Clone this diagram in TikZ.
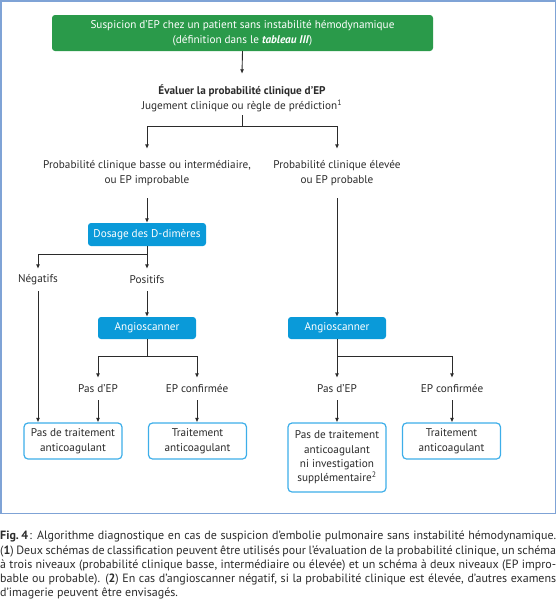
\documentclass[tikz,border=0pt]{standalone}
\usepackage{fontspec}
\setmainfont{PT Sans}
\usetikzlibrary{arrows.meta}
\definecolor{frameblue}{HTML}{7FA3D6}
\definecolor{epgreen}{HTML}{2A9A4A}
\definecolor{boxblue}{HTML}{0A9AD9}
\definecolor{lineblue}{HTML}{3DAEE9}
\definecolor{ink}{HTML}{2B2B2B}
\newcommand{\dfont}{\fontsize{11.2}{15}\selectfont}
\tikzset{
  arr/.style={draw=ink, line width=0.9pt, -{Latex[length=4.5pt,width=4pt]}},
  ln/.style={draw=ink, line width=0.9pt},
  txt/.style={align=center, inner sep=0pt, text=ink, font=\dfont},
  greenbox/.style={fill=epgreen, rounded corners=3pt, text=white, align=center, minimum width=381pt, minimum height=36pt, inner sep=0pt, font=\dfont},
  bluebox/.style={fill=boxblue, rounded corners=3pt, text=white, align=center, minimum height=23pt, inner sep=0pt, font=\dfont},
  outbox/.style={draw=lineblue, line width=1.2pt, fill=white, rounded corners=4pt, text=ink, align=center, minimum width=98pt, inner sep=0pt, font=\dfont},
}
\begin{document}
\begin{tikzpicture}[x=1pt,y=-1pt]
\useasboundingbox (0,0) rectangle (556,600);
\draw[frameblue, line width=1.5pt] (0.75,0.75) rectangle (555.25,513.5);

\node[greenbox] (green) at (242.5,33) {Suspicion d'EP chez un patient sans instabilité hémodynamique\\(définition dans le \textbf{\textit{tableau III}})};
\node[txt, minimum height=48pt] (eval) at (242,98) {\textbf{Évaluer la probabilité clinique d'EP}\\Jugement clinique ou règle de prédiction\textsuperscript{1}};
\coordinate (split1) at (242,126);
\node[txt, minimum height=49pt] (probL) at (147,173.5) {Probabilité clinique basse ou intermédiaire,\\ou EP improbable};
\node[txt, minimum height=49pt] (probR) at (337,173.5) {Probabilité clinique élevée\\ou EP probable};
\node[bluebox, minimum width=118pt] (dosage) at (147,234.5) {Dosage des D-dimères};
\coordinate (split2) at (147,254);
\node[txt, minimum height=22pt] (neg) at (38,280) {Négatifs};
\node[txt, minimum height=22pt] (pos) at (147,280) {Positifs};
\node[bluebox, minimum width=98pt, minimum height=22pt] (angL) at (147,328) {Angioscanner};
\node[bluebox, minimum width=98pt, minimum height=22pt] (angR) at (337,328) {Angioscanner};
\coordinate (split3) at (147,356);
\coordinate (split4) at (337,356);
\node[txt, minimum height=22pt] (pasL) at (98,389) {Pas d'EP};
\node[txt, minimum height=22pt] (confL) at (197,389) {EP confirmée};
\node[txt, minimum height=22pt] (pasR) at (337,389) {Pas d'EP};
\node[txt, minimum height=22pt] (confR) at (452,389) {EP confirmée};
\node[outbox, minimum height=36pt] (b1) at (73,441) {Pas de traitement\\anticoagulant};
\node[outbox, minimum height=36pt] (b2) at (197.5,441) {Traitement\\anticoagulant};
\node[outbox, minimum height=69pt, font=\fontsize{11.2}{14.3}\selectfont] (b3) at (337,457.5) {Pas de traitement\\anticoagulant\\ni investigation\\supplémentaire\textsuperscript{2}};
\node[outbox, minimum height=36pt] (b4) at (451.5,441) {Traitement\\anticoagulant};

\draw[arr] (green.south) -- (eval.north);
\draw[ln] ([yshift=7pt]eval.south) -- (split1);
\draw[arr] (split1) -| (probL.north);
\draw[arr] (split1) -| (probR.north);
\draw[arr] (probL.south) -- (dosage.north);
\draw[arr] (probR.south) -- (angR.north);
\draw[ln] (dosage.south) -- (split2);
\draw[arr] (split2) -| (neg.north);
\draw[arr] (split2) -- (pos.north);
\draw[arr] (pos.south) -- (angL.north);
\draw[arr] (neg.south) -- (neg.south |- b1.north);
\draw[ln] (angL.south) -- (split3);
\draw[arr] (split3) -| (pasL.north);
\draw[arr] (split3) -| (confL.north);
\draw[arr] (angR.south) -- (pasR.north);
\draw[arr] (split4) -| (confR.north);
\draw[arr] (pasL.south) -- (pasL.south |- b1.north);
\draw[arr] (confL.south) -- (confL.south |- b2.north);
\draw[arr] (pasR.south) -- (b3.north);
\draw[arr] (confR.south) -- (confR.south |- b4.north);

\node[anchor=north west, inner sep=0pt, text=ink, font=\fontsize{12}{14.2}\selectfont, align=left] (caption) at (0,531) {%
\makebox[556pt][s]{\textbf{Fig.\kern0.2em4}\kern0.1em: Algorithme diagnostique en cas de suspicion d'embolie pulmonaire sans instabilité hémodynamique.}\\
\makebox[556pt][s]{(\textbf{1}) Deux schémas de classification peuvent être utilisés pour l'évaluation de la probabilité clinique, un schéma}\\
\makebox[556pt][s]{à trois niveaux (probabilité clinique basse, intermédiaire ou élevée) et un schéma à deux niveaux (EP impro-}\\
\makebox[556pt][s]{bable ou probable). (\textbf{2}) En cas d'angioscanner négatif, si la probabilité clinique est élevée, d'autres examens}\\
d'imagerie peuvent être envisagés.};
\end{tikzpicture}
\end{document}
